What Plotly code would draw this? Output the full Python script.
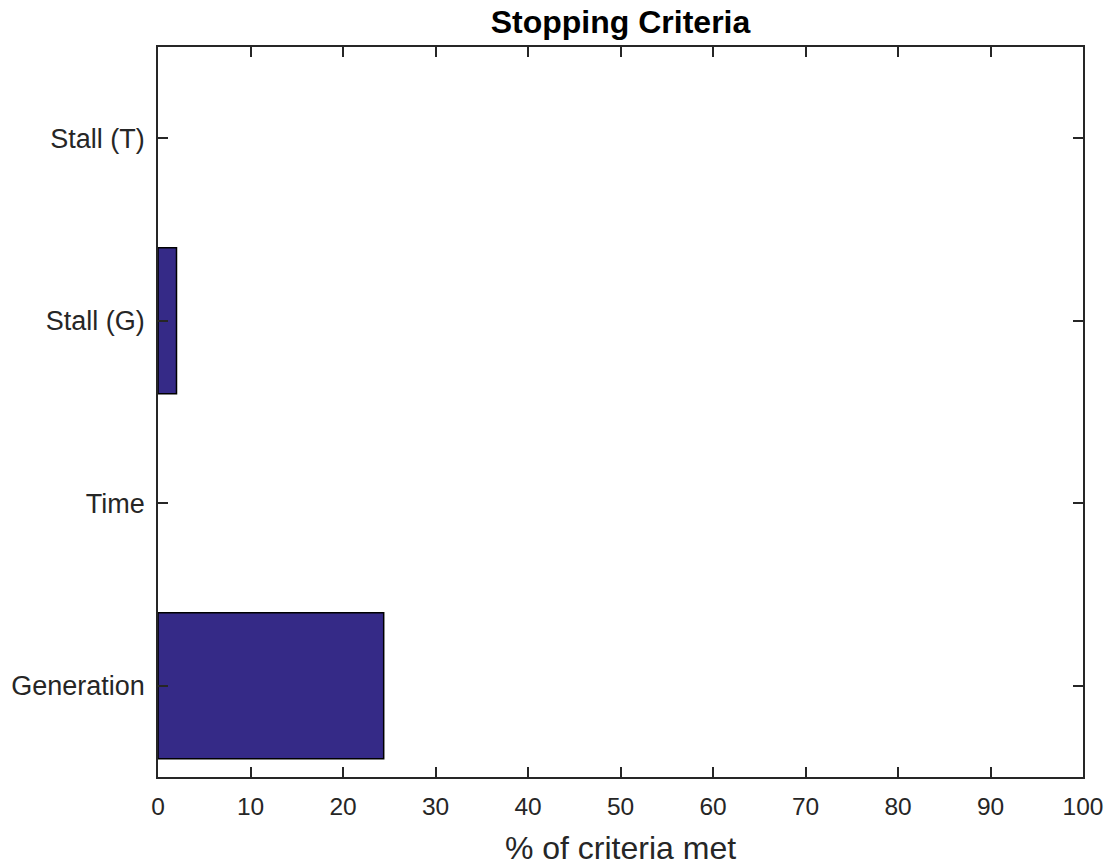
import plotly.graph_objects as go

categories = ["Generation", "Time", "Stall (G)", "Stall (T)"]
values = [24.4, 0.0, 2.0, 0.0]
x_ticks = [0, 10, 20, 30, 40, 50, 60, 70, 80, 90, 100]

FONT = "Liberation Sans, Arial, Helvetica, sans-serif"

fig = go.Figure()
fig.add_trace(go.Bar(
    y=[1, 2, 3, 4], x=values, orientation="h", width=0.8,
    marker=dict(color="#352A87",
                line=dict(color="black", width=[1.5 if v > 0 else 0 for v in values])),
    hoverinfo="skip",
))

axis_common = dict(
    showline=True, linecolor="#262626", linewidth=1.5, mirror="ticks",
    ticks="inside", ticklen=10, tickwidth=1.5, tickcolor="#262626",
    showgrid=False, zeroline=False, automargin=False,
)

fig.update_layout(
    width=1111, height=866,
    margin=dict(l=158, r=28, t=47, b=89),
    paper_bgcolor="white", plot_bgcolor="white",
    showlegend=False,
    title=dict(text="<b>Stopping Criteria</b>", x=0.5, xref="paper", xanchor="center",
               y=0.975, yref="container", yanchor="middle",
               font=dict(family=FONT, size=32, color="black"), automargin=False),
    xaxis=dict(range=[0, 100], tickvals=x_ticks, ticktext=[str(v) for v in x_ticks],
               ticklabelstandoff=7,
               tickfont=dict(family=FONT, size=24.5, color="#262626"),
               title=dict(text="% of criteria met", standoff=25,
                          font=dict(family=FONT, size=32, color="#262626")),
               **axis_common),
    yaxis=dict(range=[0.5, 4.5], tickvals=[1, 2, 3, 4], ticktext=categories,
               ticklabelstandoff=6,
               tickfont=dict(family=FONT, size=27, color="#262626"),
               **axis_common),
)

fig.write_html("out.html", config={"displayModeBar": False},
               post_script="document.body.style.margin='0';")
